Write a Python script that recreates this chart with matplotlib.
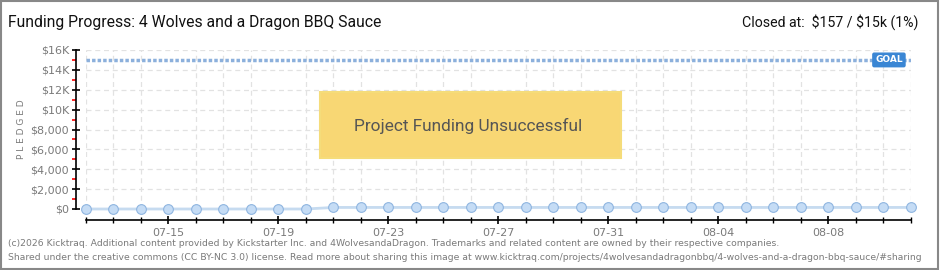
import matplotlib
matplotlib.use("Agg")
import matplotlib.pyplot as plt
import matplotlib.dates as mdates
import pandas as pd
from matplotlib.patches import Rectangle

TITLE = "Funding Progress: 4 Wolves and a Dragon BBQ Sauce"
CLOSED = r"Closed at:  \$157 / \$15k (1%)"
FOOTER = [
    "(c)2026 Kicktraq. Additional content provided by Kickstarter Inc. and 4WolvesandaDragon. "
    "Trademarks and related content are owned by their respective companies.",
    "Shared under the creative commons (CC BY-NC 3.0) license. Read more about sharing this image at "
    "www.kicktraq.com/projects/4wolvesandadragonbbq/4-wolves-and-a-dragon-bbq-sauce/#sharing",
]

dates = pd.date_range("2026-07-12", "2026-08-11", freq="D")
pledged = [0, 0, 0, 0, 0, 0, 0, 0, 0,
           157, 157, 157, 157, 157, 157, 157, 157, 157, 157, 157,
           157, 157, 157, 157, 157, 157, 157, 157, 157, 157, 157]
goal = 15000
ytick_vals = [0, 2000, 4000, 6000, 8000, 10000, 12000, 14000, 16000]
ytick_labels = [r"\$0", r"\$2,000", r"\$4,000", r"\$6,000", r"\$8,000",
                r"\$10K", r"\$12K", r"\$14K", r"\$16K"]

GRAY = "#7a7a7a"
NARROW = ["Roboto", "DejaVu Sans"]

fig = plt.figure(figsize=(9.4, 2.7), dpi=100)
fig.patch.set_facecolor("white")
fig.patches.append(Rectangle((0.001, 0.002), 0.997, 0.995, transform=fig.transFigure,
                             fill=False, edgecolor="#888888", linewidth=1.5))

ax = fig.add_axes([86 / 940, 61 / 270, 825 / 940, 159 / 270])

# goal line
ax.plot([dates[0], dates[-1]], [goal, goal], color="#8cb0dc", linewidth=2.5,
        linestyle=(0, (1, 0.6)), zorder=2)
ax.text(dates[-1] - pd.Timedelta(days=0.3), goal, "GOAL", ha="right", va="center",
        fontsize=6.5, color="white", fontweight="bold",
        bbox=dict(boxstyle="round,pad=0.25,rounding_size=0.15", fc="#3a86d4", ec="#3a86d4"),
        zorder=4)

# pledged series
ax.plot(dates, pledged, color="#c6dbf0", linewidth=2, marker="o", markersize=7,
        markerfacecolor="#c5dcf5", markeredgecolor="#8fb5e0", markeredgewidth=0.8,
        clip_on=False, zorder=3)

ax.set_xlim(dates[0], dates[-1])
ax.set_ylim(0, 16000)

ax.set_yticks(ytick_vals)
ax.set_yticklabels(ytick_labels)
ax.set_yticks(range(1000, 16000, 2000), minor=True)
ax.xaxis.set_major_locator(mdates.DayLocator(bymonthday=[15, 19, 23, 27, 31, 4, 8]))
ax.xaxis.set_major_formatter(mdates.DateFormatter("%m-%d"))
ax.xaxis.set_minor_locator(mdates.DayLocator())

for s in ["top", "right"]:
    ax.spines[s].set_visible(False)
ax.spines["left"].set_position(("outward", 7.2))
ax.spines["bottom"].set_position(("outward", 7.7))
ax.spines["left"].set_linewidth(1.2)
ax.spines["bottom"].set_linewidth(1.2)

ax.tick_params(axis="y", which="major", direction="inout", length=6, width=1.2,
               labelsize=8, labelcolor=GRAY, pad=2)
ax.tick_params(axis="y", which="minor", direction="out", length=3, width=1.2, color="red")
ax.tick_params(axis="x", which="major", direction="inout", length=6, width=1.2,
               labelsize=8, labelcolor=GRAY, pad=3)
ax.tick_params(axis="x", which="minor", direction="inout", length=5, width=1)

ax.grid(True, which="major", axis="y", color="#e2e2e2", linestyle=(0, (4, 3)), linewidth=0.9)
ax.grid(True, which="minor", axis="x", color="#e2e2e2", linestyle=(0, (4, 3)), linewidth=0.9)
ax.set_axisbelow(True)

ax.set_ylabel("P L E D G E D", fontsize=6.5, color=GRAY, labelpad=3)

# unsuccessful banner
fig.patches.append(Rectangle((320 / 940, 1 - 158 / 270), 301 / 940, 66 / 270,
                             transform=fig.transFigure, fc="#f8d774", ec="#f5dc7a",
                             lw=1.5, zorder=4))
fig.text(468 / 940, 1 - 126 / 270, "Project Funding Unsuccessful", ha="center", va="center",
         fontsize=12.4, color="#555555", family=NARROW, zorder=5)

fig.text(8 / 940, 1 - 22 / 270, TITLE, ha="left", va="center", fontsize=11.3,
         color="#111111", family=NARROW)
fig.text(918 / 940, 1 - 22 / 270, CLOSED, ha="right", va="center", fontsize=10.2,
         color="#111111", family=NARROW)
fig.text(8 / 940, 1 - 243 / 270, FOOTER[0], ha="left", va="center", fontsize=6.7, color=GRAY)
fig.text(8 / 940, 1 - 257 / 270, FOOTER[1], ha="left", va="center", fontsize=6.7, color=GRAY)

fig.savefig("out.png", dpi=100)
